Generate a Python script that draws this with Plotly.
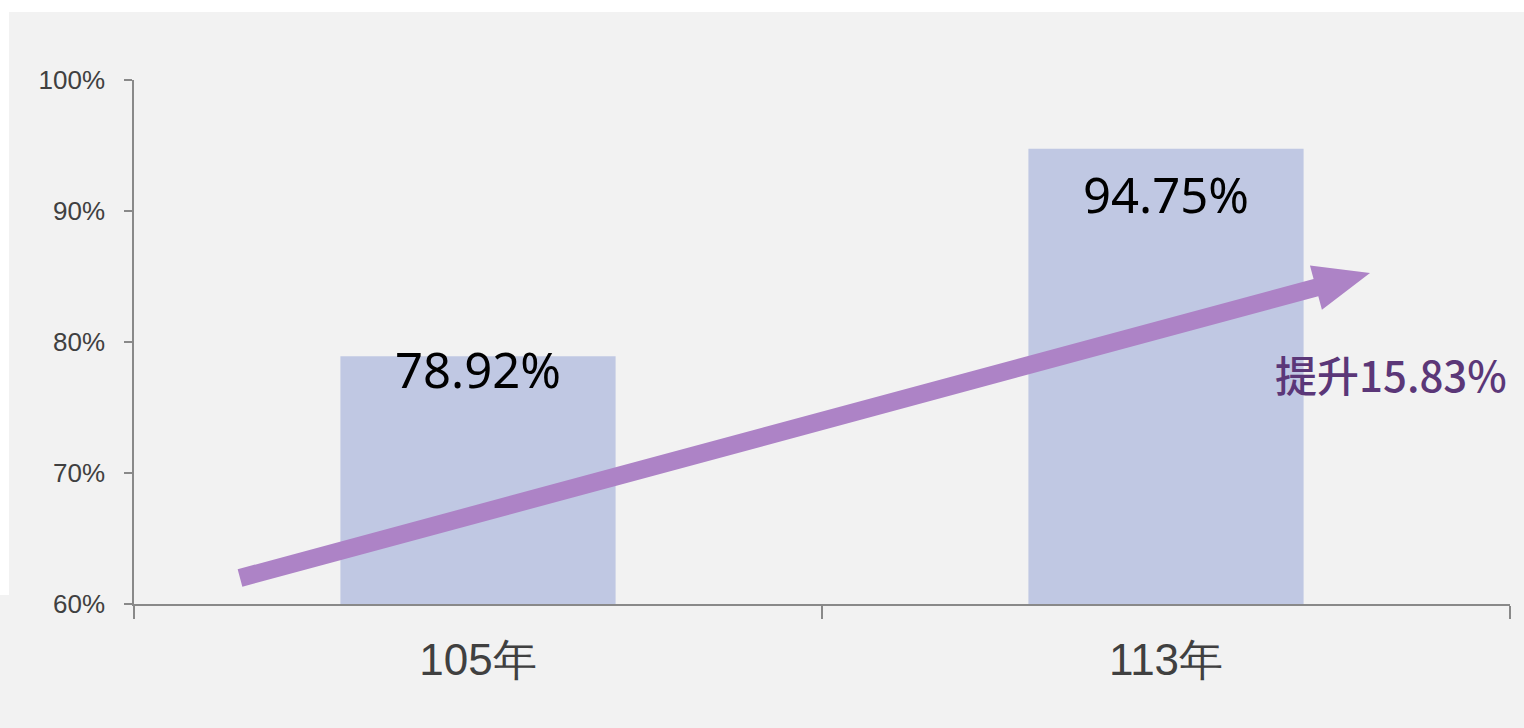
import math
import plotly.graph_objects as go

categories = ["105年", "113年"]
values = [78.92, 94.75]
bar_labels = ["78.92%", "94.75%"]
increase_label = "提升15.83%"
y_ticks = [60, 70, 80, 90, 100]
y_tick_text = ["60%", "70%", "80%", "90%", "100%"]

W, H = 1524, 728
ML, MR, MT, MB = 134, 14, 80, 124
pw, ph = W - ML - MR, H - MT - MB

def px2paper_x(px):
    return (px - ML) / pw

def px2paper_y(py):
    return (H - MB - py) / ph

fig = go.Figure()
fig.add_trace(go.Bar(
    x=categories, y=values, marker=dict(color="#c0c8e3", line=dict(width=0)),
    hoverinfo="skip", showlegend=False,
))

annotations = []
shifts = [-13, -45]
for i, (v, t) in enumerate(zip(values, bar_labels)):
    annotations.append(dict(
        x=i, y=v, xref="x", yref="y", text=t, showarrow=False,
        yshift=shifts[i], yanchor="middle",
        font=dict(family="Noto Sans", size=49, color="#000000"),
    ))

annotations.append(dict(
    x=1.327, y=77.56, xref="x", yref="y", text=increase_label, showarrow=False,
    font=dict(family="Noto Sans CJK TC", size=42, color="#5b3778", weight=500),
))

# rising arrow (decoration) built in pixel space, drawn in paper coords
tail = (240.0, 578.0)
tip = (1370.0, 273.0)
dx, dy = tip[0] - tail[0], tip[1] - tail[1]
L = math.hypot(dx, dy)
ux, uy = dx / L, dy / L
nx, ny = -uy, ux
shaft_hw, head_hw, head_len = 9.0, 23.0, 56.0
bx, by = tip[0] - head_len * ux, tip[1] - head_len * uy
pts = [
    (tail[0] + shaft_hw * nx, tail[1] + shaft_hw * ny),
    (bx + shaft_hw * nx, by + shaft_hw * ny),
    (bx + head_hw * nx, by + head_hw * ny),
    tip,
    (bx - head_hw * nx, by - head_hw * ny),
    (bx - shaft_hw * nx, by - shaft_hw * ny),
    (tail[0] - shaft_hw * nx, tail[1] - shaft_hw * ny),
]
path = "M " + " L ".join(f"{px2paper_x(x):.5f},{px2paper_y(y):.5f}" for x, y in pts) + " Z"

shapes = [
    dict(type="rect", xref="paper", yref="paper", layer="below",
         x0=px2paper_x(0), x1=px2paper_x(W), y0=px2paper_y(12), y1=px2paper_y(0),
         fillcolor="#ffffff", line=dict(width=0)),
    dict(type="rect", xref="paper", yref="paper", layer="below",
         x0=px2paper_x(0), x1=px2paper_x(9), y0=px2paper_y(595), y1=px2paper_y(0),
         fillcolor="#ffffff", line=dict(width=0)),
    dict(type="path", xref="paper", yref="paper", layer="above", path=path,
         fillcolor="#ad83c6", line=dict(width=0)),
]

fig.update_layout(
    width=W, height=H,
    margin=dict(l=ML, r=MR, t=MT, b=MB, pad=0),
    paper_bgcolor="#f2f2f2", plot_bgcolor="#f2f2f2",
    bargap=0.6,
    annotations=annotations, shapes=shapes,
    xaxis=dict(
        type="category", showgrid=False, showline=True, linecolor="#898989", linewidth=1.5,
        ticks="outside", tickson="boundaries", ticklen=13, tickcolor="#898989", tickwidth=1.5,
        tickfont=dict(family="Liberation Sans, Arial", size=44, color="#404040"),
        ticklabelstandoff=16, zeroline=False,
    ),
    yaxis=dict(
        range=[60, 100], tickvals=y_ticks, ticktext=y_tick_text, showgrid=False,
        showline=True, linecolor="#898989", linewidth=1.5,
        ticks="outside", ticklen=8, tickcolor="#898989", tickwidth=1.5,
        tickfont=dict(family="Liberation Sans, Arial", size=26, color="#404040"),
        ticklabelstandoff=14, zeroline=False,
    ),
)

fig.write_html("out.html", config={"displayModeBar": False},
               post_script="document.body.style.margin='0';")
